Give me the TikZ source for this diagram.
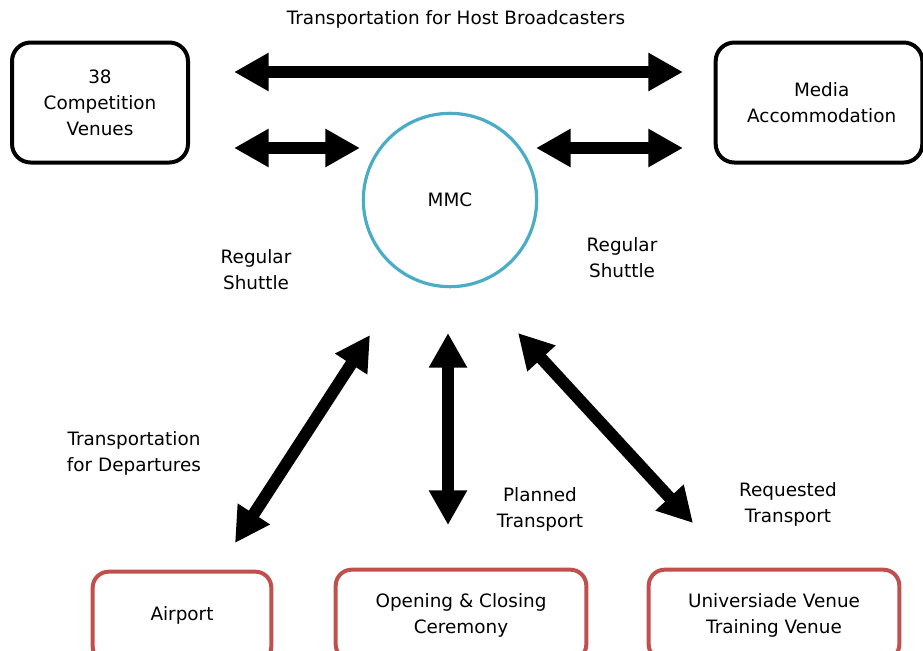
\documentclass[tikz,border=0pt]{standalone}
\usepackage{fontspec}
\setmainfont{DejaVu Sans}
\usetikzlibrary{arrows.meta}
\definecolor{mmcblue}{HTML}{4BACC6}
\definecolor{boxred}{HTML}{C0504D}
\begin{document}
\begin{tikzpicture}[x=0.75pt,y=-0.75pt,
  txt/.style={align=center,inner sep=0pt,font=\fontsize{13.8}{19.5}\selectfont},
  topbox/.style={txt,draw=black,line width=3pt,rounded corners=14pt},
  botbox/.style={txt,draw=boxred,line width=3pt,rounded corners=12pt},
  fatarrow/.style={line width=9pt,{Triangle[width=27pt,length=26pt]}-{Triangle[width=27pt,length=26pt]}}
]
\useasboundingbox (0,0) rectangle (923,650);
\clip (0,0) rectangle (923,650);
% boxes
\node[topbox,minimum width=132pt,minimum height=90pt] (cv) at (100,102.5) {38\\Competition\\Venues};
\node[topbox,minimum width=155pt,minimum height=90pt] (ma) at (819,102.5) {\raisebox{-2pt}{\hspace*{4pt}Media}\\\raisebox{-2pt}{\hspace*{4pt}Accommodation}};
\node[txt,draw=mmcblue,line width=2.4pt,circle,minimum size=130pt] (mmc) at (450,200) {MMC};
\node[botbox,minimum width=134pt,minimum height=68pt] (ap) at (182,617) {\raisebox{6pt}{Airport}};
\node[botbox,minimum width=188pt,minimum height=68pt] (oc) at (461,615) {Opening \& Closing\\Ceremony};
\node[botbox,minimum width=188pt,minimum height=68pt] (uv) at (774,615) {Universiade Venue\\Training Venue};
% arrow end points
\coordinate (t1) at (234,72); \coordinate (t2) at (683,72);
\coordinate (l1) at (234,148); \coordinate (l2) at (360,148);
\coordinate (r1) at (536,148); \coordinate (r2) at (683,148);
\coordinate (a1) at (235,543); \coordinate (a2) at (370,335);
\coordinate (v1) at (448,333); \coordinate (v2) at (448,525);
\coordinate (d1) at (518,333); \coordinate (d2) at (693,523);
\draw[fatarrow] (t1) -- (t2);
\draw[fatarrow] (l1) -- (l2);
\draw[fatarrow] (r1) -- (r2);
\draw[fatarrow] (a1) -- (a2);
\draw[fatarrow] (v1) -- (v2);
\draw[fatarrow] (d1) -- (d2);
% labels
\node[txt] (lt) at (456,19) {Transportation for Host Broadcasters};
\node[txt] (ls1) at (256,270) {Regular\\Shuttle};
\node[txt] (ls2) at (622,257.5) {Regular\\Shuttle};
\node[txt] (ld) at (134,453) {Transportation\\for Departures};
\node[txt] (lp) at (540,509) {Planned\\Transport};
\node[txt] (lr) at (788,504) {Requested\\Transport};
\end{tikzpicture}
\end{document}
